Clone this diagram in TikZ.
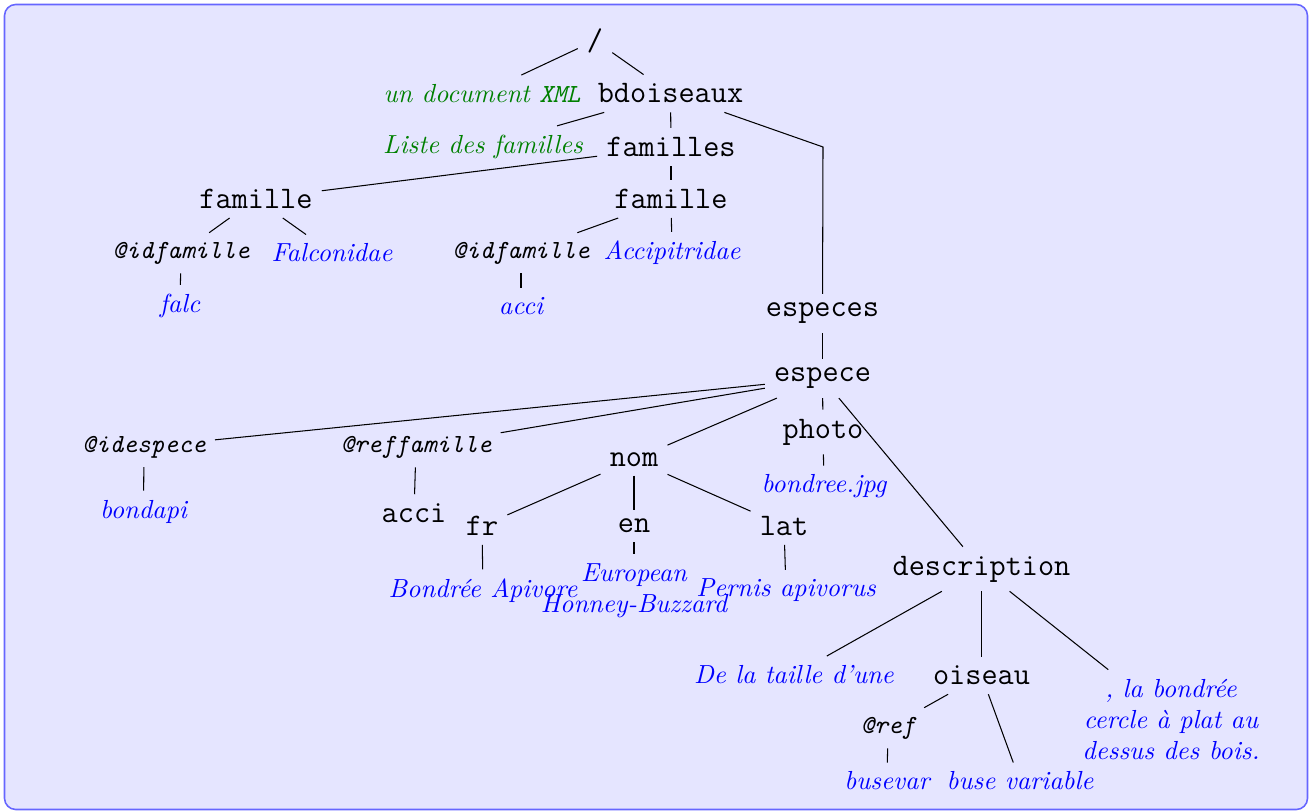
\documentclass[tikz,border=0pt]{standalone}
\usepackage{fontspec}
\begin{document}
\begin{tikzpicture}[x=0.3825pt,y=-0.3825pt,
  el/.style={font=\large\ttfamily},
  att/.style={font=\ttfamily\itshape},
  val/.style={font=\itshape, text=blue},
  com/.style={font=\itshape, text=green!50!black},
  frame/.style={draw=blue!60, fill=blue!10, line width=0.6pt, rounded corners=4.3pt},
  link/.style={draw=black, line width=0.4pt}]
\useasboundingbox (0,0) rectangle (1309,811);
\path[frame] (4.5,4.5) rectangle (1307.5,809.5);
% level 0-5 (top part)
\node[el] (root) at (595,40.5) {/};
\node[com] (doc) at (482,93.5) {un document \texttt{XML}};
\node[el] (bdo) at (670.5,93.5) {bdoiseaux};
\node[com] (liste) at (483,147) {Liste des familles};
\node[el] (fams) at (671,147) {familles};
\coordinate (k) at (823,147);
\node[el] (fam1) at (256,199) {famille};
\node[el] (fam2) at (671,199) {famille};
\node[att] (idf1) at (181,253) {@idfamille};
\node[val] (falco) at (332,253) {Falconidae};
\node[val] (falc) at (180,306) {falc};
\node[att] (idf2) at (521,253) {@idfamille};
\node[val] (accip) at (672,253) {Accipitridae};
\node[val] (acci1) at (521,306) {acci};
% especes
\node[el] (especes) at (822.5,313.5) {especes};
\node[el] (espece) at (822.5,378.5) {espece};
\node[att] (ide) at (144,447) {@idespece};
\node[val] (bondapi) at (143.5,511.5) {bondapi};
\node[att] (reff) at (416,447) {@reffamille};
\node[el] (acci2) at (414,513) {acci};
\node[el] (nom) at (634,459.5) {nom};
\node[el] (photo) at (823,432) {photo};
\node[val] (bjpg) at (824,486.5) {bondree.jpg};
\node[el] (fr) at (482,526) {fr};
\node[el] (en) at (634,526) {en};
\node[el] (lat) at (784,526) {lat};
\node[val] (bond) at (483,590.5) {Bondrée Apivore};
\node[val, align=center] (euro) at (634,590.5) {European\\Honney-Buzzard};
\node[val] (pern) at (786,590.5) {Pernis apivorus};
\node[el] (desc) at (981.5,569) {description};
\node[val] (dela) at (794,674.5) {De la taille d'une};
\node[el] (ois) at (981.5,675.5) {oiseau};
\node[val, align=center] (lab) at (1171,719.5) {, la bondrée\\cercle à plat au\\dessus des bois.};
\node[att] (ref) at (888,728) {@ref};
\node[val] (busevar) at (887,781) {busevar};
\node[val] (busev) at (1020,781) {buse variable};
% connectors
\path[link] (root) -- (doc);
\path[link] (root) -- (bdo);
\path[link] (bdo) -- (liste);
\path[link] (bdo) -- (fams);
\path[link] (bdo) -- (k) -- (especes);
\path[link] (fams) -- (fam1);
\path[link] (fams) -- (fam2);
\path[link] (fam1) -- (idf1);
\path[link] (fam1) -- (falco);
\path[link] (idf1) -- (falc);
\path[link] (fam2) -- (idf2);
\path[link] (fam2) -- (accip);
\path[link] (idf2) -- (acci1);
\path[link] (especes) -- (espece);
\path[link] (espece) -- (ide);
\path[link] (espece) -- (reff);
\path[link] (espece) -- (nom);
\path[link] (espece) -- (photo);
\path[link] (espece) -- (desc);
\path[link] (ide) -- (bondapi);
\path[link] (reff) -- (acci2);
\path[link] (nom) -- (fr);
\path[link] (nom) -- (en);
\path[link] (nom) -- (lat);
\path[link] (photo) -- (bjpg);
\path[link] (fr) -- (bond);
\path[link] (en) -- (euro);
\path[link] (lat) -- (pern);
\path[link] (desc) -- (dela);
\path[link] (desc) -- (ois);
\path[link] (desc) -- (lab);
\path[link] (ois) -- (ref);
\path[link] (ois) -- (busev);
\path[link] (ref) -- (busevar);
\end{tikzpicture}
\end{document}
